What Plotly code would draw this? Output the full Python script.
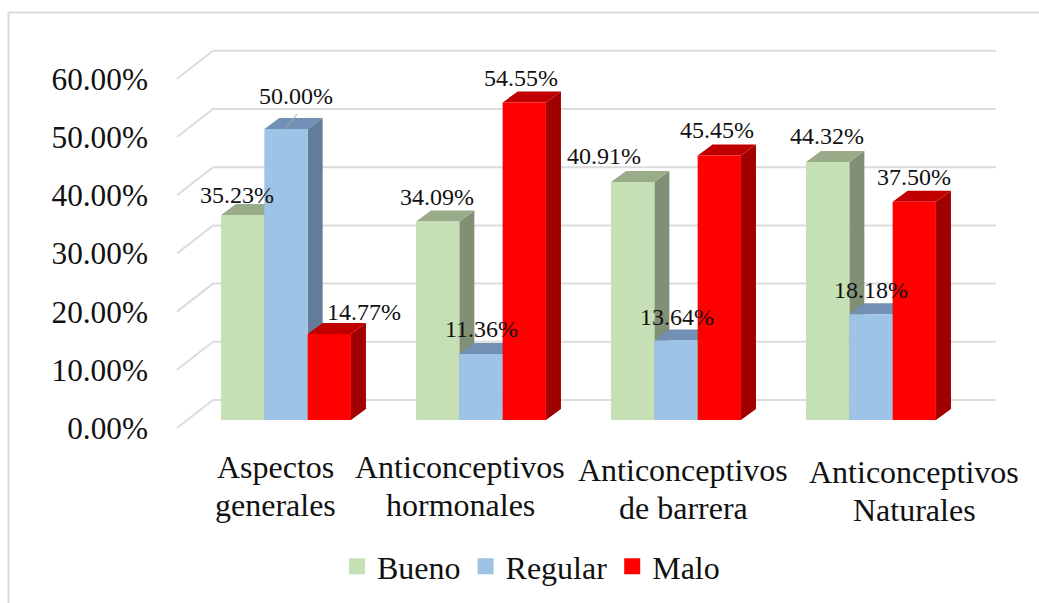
import plotly.graph_objects as go

# ---- data ----
cat_line1 = ["Aspectos", "Anticonceptivos", "Anticonceptivos", "Anticonceptivos"]
cat_line2 = ["generales", "hormonales", "de barrera", "Naturales"]
series_names = ["Bueno", "Regular", "Malo"]
bueno = [35.23, 34.09, 40.91, 44.32]
regular = [50.00, 11.36, 13.64, 18.18]
malo = [14.77, 54.55, 45.45, 37.50]
y_ticks = [0, 10, 20, 30, 40, 50, 60]

# ---- styles ----
FRONT = ["#C5E0B4", "#9DC3E6", "#FF0000"]
SIDE = ["#808F75", "#637C99", "#A00000"]
TOP = ["#9AAB8A", "#7290B4", "#C00000"]
GRID = "#DCDCDC"
FONT = "Liberation Serif"
INK = "#111111"

# ---- geometry (canvas px -> axis units) ----
W, H = 1039, 603
L, R, T, B = 149, 1000, 40, 520
X0, XU = 286.0, 195.0          # px of category 0, px per category
YU = 5.82                      # px per percentage point
Y0_LABEL, Y0_BAR, Y0_WALL = 428, 420, 400
xr = [(L - X0) / XU, (R - X0) / XU]
yr = [(Y0_LABEL - B) / YU, (Y0_LABEL - T) / YU]
yr2 = [(Y0_BAR - B) / YU, (Y0_BAR - T) / YU]
px_x = lambda p: p / XU
px_y = lambda p: p / YU
bw = px_x(43.3)
dx, dy = px_x(15), px_y(11)
bar_shift = px_y(Y0_LABEL - Y0_BAR)
wall_shift = px_y(Y0_LABEL - Y0_WALL)
grid_x = [(177 - X0) / XU, (213 - X0) / XU, (996 - X0) / XU]

fig = go.Figure()
# back wall gridlines
gx, gy = [], []
for v in y_ticks:
    gx += grid_x + [None]
    gy += [v, v + wall_shift, v + wall_shift, None]
fig.add_trace(go.Scatter(x=gx, y=gy, mode="lines", line=dict(color=GRID, width=2),
                         hoverinfo="skip", showlegend=False))

# side and top faces of the columns, behind all the fronts
for i, vals in enumerate([bueno, regular, malo]):
    sx, sy, tx, ty = [], [], [], []
    for c, v in enumerate(vals):
        a = c + (i - 1) * bw - bw / 2
        b = a + bw
        base, top = bar_shift, v + bar_shift
        sx += [b, b + dx, b + dx, b, b, None]
        sy += [base, base + dy, top + dy, top, base, None]
        tx += [a, b, b + dx, a + dx, a, None]
        ty += [top, top, top + dy, top + dy, top, None]
    fig.add_trace(go.Scatter(x=sx, y=sy, mode="lines", fill="toself", fillcolor=SIDE[i],
                             line=dict(width=0), hoverinfo="skip", showlegend=False))
    fig.add_trace(go.Scatter(x=tx, y=ty, mode="lines", fill="toself", fillcolor=TOP[i],
                             line=dict(width=0), hoverinfo="skip", showlegend=False))

# column fronts
cats = list(range(len(cat_line1)))
for i, vals in enumerate([bueno, regular, malo]):
    fig.add_trace(go.Bar(x=cats, y=vals, name=series_names[i], yaxis="y2",
                         marker=dict(color=FRONT[i], line=dict(width=0)), showlegend=False))

# legend entries
for i, n in enumerate(series_names):
    fig.add_trace(go.Scatter(x=[None], y=[None], mode="markers", name=n,
                             marker=dict(symbol="square", size=16, color=FRONT[i])))

# leader line of the 50.00% label
fig.add_trace(go.Scatter(x=[cats[0], cats[0] + px_x(11)], y=[regular[0], regular[0] + px_y(15)],
                         yaxis="y2", mode="lines", line=dict(color="#A6A6A6", width=1),
                         hoverinfo="skip", showlegend=False))

# value labels: pixel offsets from the bar's top centre
label_off = {
    (0, 0): (-6, 20), (0, 1): (10, 33), (0, 2): (35, 22),
    (1, 0): (-1, 25), (1, 1): (0, 25), (1, 2): (-3, 25),
    (2, 0): (-29, 26), (2, 1): (1, 24), (2, 2): (-2, 25),
    (3, 0): (-1, 26), (3, 1): (0, 24), (3, 2): (0, 25),
}
ann = []
for i, vals in enumerate([bueno, regular, malo]):
    for c, v in enumerate(vals):
        ox, oy = label_off[(c, i)]
        ann.append(dict(x=c + (i - 1) * bw, y=v, xref="x", yref="y2", text=f"{v:.2f}%",
                        showarrow=False, xshift=ox, yshift=oy,
                        font=dict(family=FONT, size=24, color=INK)))

# category labels
cat_off = [(-11, 0), (-21, 0), (7, 3), (43, 5)]
for c in cats:
    ox, oy = cat_off[c]
    for txt, py in ((cat_line1[c], 467), (cat_line2[c], 505)):
        ann.append(dict(x=c, y=(Y0_BAR - (py + oy)) / YU, xref="x", yref="y2", text=txt,
                        showarrow=False, xshift=ox, yanchor="middle",
                        font=dict(family=FONT, size=32, color=INK)))

fig.update_layout(
    width=W, height=H, autosize=False,
    margin=dict(l=L, r=W - R, t=T, b=H - B, pad=0),
    paper_bgcolor="white", plot_bgcolor="white",
    barmode="group", bargap=1 - 3 * bw, bargroupgap=0,
    xaxis=dict(range=xr, showticklabels=False, showgrid=False, zeroline=False, ticks="", showline=False),
    yaxis=dict(range=yr, tickvals=y_ticks, ticktext=[f"{v:.2f}%" for v in y_ticks],
               showgrid=False, zeroline=False, ticks="", showline=False,
               tickfont=dict(family=FONT, size=31.3, color=INK)),
    yaxis2=dict(range=yr2, overlaying="y", visible=False),
    legend=dict(orientation="h", x=(337 - L) / (R - L), xref="paper", xanchor="left", yref="container", y=0.015,
                yanchor="bottom", font=dict(family=FONT, size=32, color=INK), bgcolor="rgba(0,0,0,0)"),
    annotations=ann,
    shapes=[
        dict(type="line", xref="paper", yref="paper", x0=(8.5 - L) / (R - L), x1=(W - L) / (R - L),
             y0=(B - 12.5) / (B - T), y1=(B - 12.5) / (B - T), line=dict(color="#D9D9D9", width=2)),
        dict(type="line", xref="paper", yref="paper", x0=(8.5 - L) / (R - L), x1=(8.5 - L) / (R - L),
             y0=(B - 12.5) / (B - T), y1=(B - H) / (B - T), line=dict(color="#D9D9D9", width=2)),
    ],
)
fig.write_html("out.html", config={"displayModeBar": False}, post_script="document.body.style.margin='0';")
